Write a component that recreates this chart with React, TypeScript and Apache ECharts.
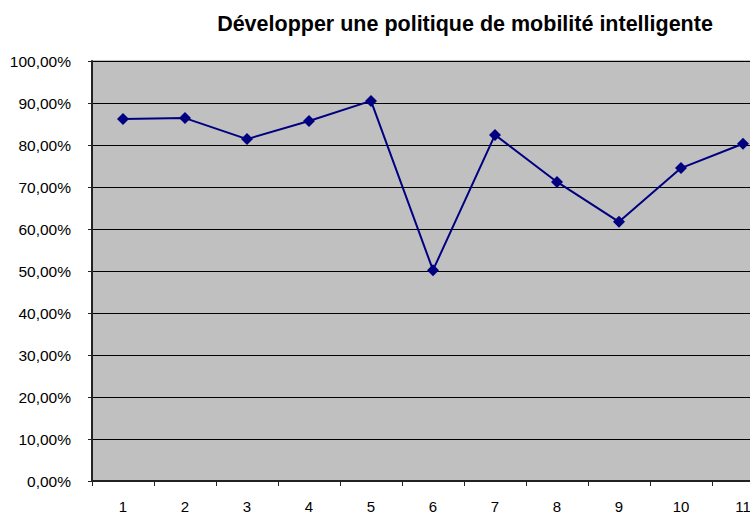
import React, { useEffect, useRef } from "react";
import * as echarts from "echarts";

const titleText = "Développer une politique de mobilité intelligente";
const categories = ["1", "2", "3", "4", "5", "6", "7", "8", "9", "10", "11", "12"];
const values: (number | null)[] = [86.2, 86.4, 81.4, 85.7, 90.5, 50.2, 82.4, 71.2, 61.7, 74.5, 80.3, null];

export default function App() {
  const ref = useRef<HTMLDivElement>(null);
  useEffect(() => {
    const chart = echarts.init(ref.current!, null, { renderer: "svg" });
    chart.setOption({
      animation: false,
      backgroundColor: "#ffffff",
      title: {
        text: titleText,
        left: 460,
        top: 8,
        textAlign: "center",
        textStyle: { fontFamily: "Liberation Sans, Arial", fontSize: 21.5, fontWeight: "bold", color: "#000" },
      },
      grid: {
        show: true,
        left: 92,
        top: 61,
        width: 744,
        height: 420,
        outerBoundsMode: "none",
        containLabel: false,
        backgroundColor: "#C0C0C0",
        borderColor: "#808080",
        borderWidth: 1,
      },
      xAxis: {
        type: "category",
        data: categories,
        boundaryGap: true,
        axisLine: { show: true, lineStyle: { color: "#222", width: 2 } },
        axisTick: { show: true, length: 5, inside: false, lineStyle: { color: "#222" } },
        axisLabel: { margin: 18, fontSize: 15, color: "#000", fontFamily: "Liberation Sans, Arial", interval: 0 },
        splitLine: { show: false },
      },
      yAxis: {
        type: "value",
        min: 0,
        max: 100,
        interval: 10,
        axisLine: { show: true, lineStyle: { color: "#222", width: 2 } },
        axisTick: { show: true, length: 4, lineStyle: { color: "#222" } },
        axisLabel: {
          margin: 21,
          fontSize: 15.5,
          color: "#000",
          fontFamily: "Liberation Sans, Arial",
          formatter: (v: number) => v.toFixed(2).replace(".", ",") + "%",
        },
        splitLine: { show: true, lineStyle: { color: "#000", width: 1 } },
      },
      series: [
        {
          type: "line",
          data: values,
          symbol: "diamond",
          symbolSize: 12,
          lineStyle: { color: "#000080", width: 2 },
          itemStyle: { color: "#000080" },
          connectNulls: false,
        },
      ],
    });
    return () => chart.dispose();
  }, []);
  return (
    <div style={{ position: "fixed", left: 0, top: 0, width: 750, height: 512, overflow: "hidden" }}>
      <div ref={ref} style={{ width: 850, height: 512 }} />
    </div>
  );
}
